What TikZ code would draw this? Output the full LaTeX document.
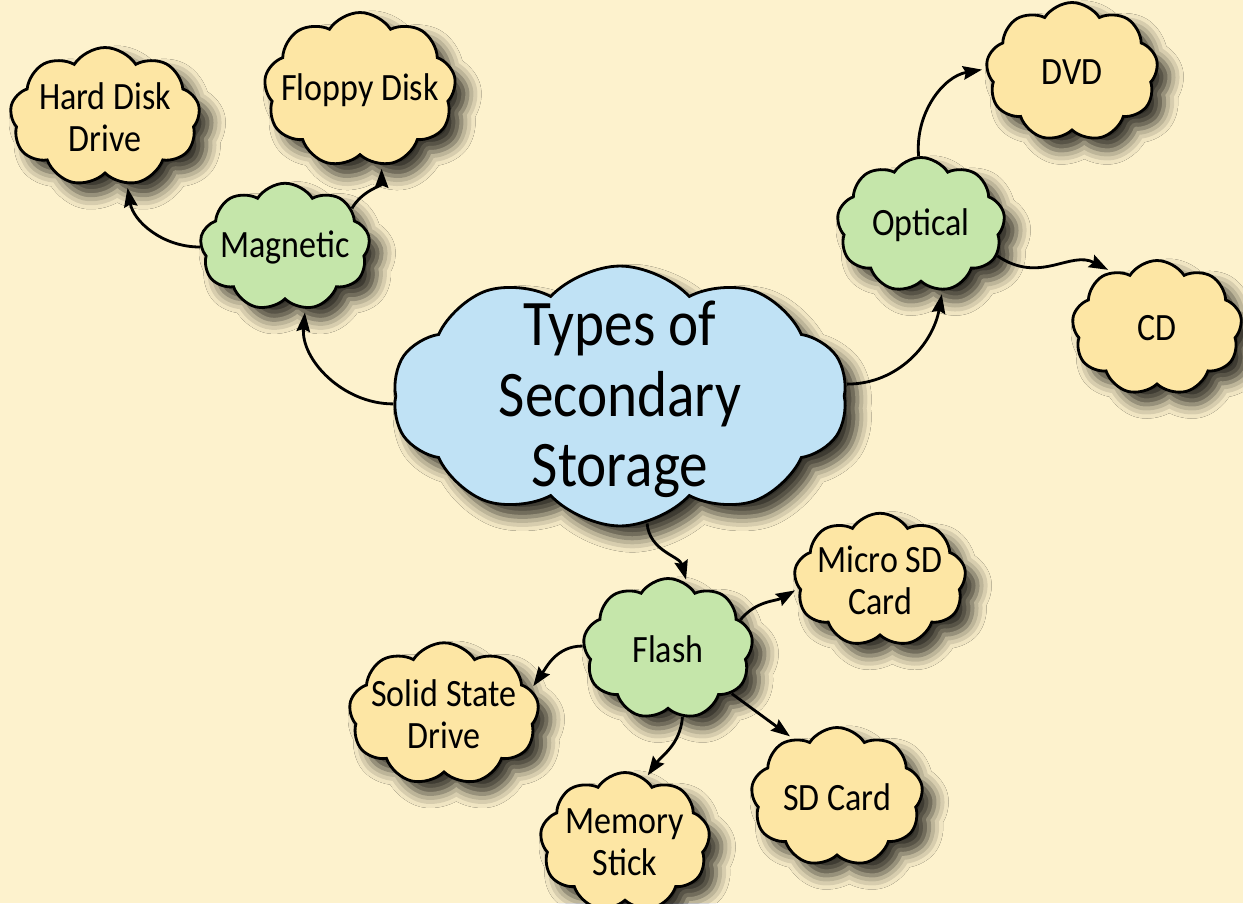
\documentclass[tikz,border=0pt]{standalone}
\usepackage{fontspec}
\setmainfont[FakeStretch=0.88]{Carlito}
\usepackage{tikz}
\usetikzlibrary{arrows.meta}
\usetikzlibrary{shapes.symbols}
\usetikzlibrary{shadows.blur}
\definecolor{bgcream}{RGB}{253, 242, 205}
\definecolor{mblue}{RGB}{192, 226, 245}
\definecolor{mgreen}{RGB}{197, 230, 170}
\definecolor{myellow}{RGB}{253, 230, 164}
\tikzset{puff/.style = {cloud, cloud puffs=9, cloud puff arc=115, cloud ignores aspect,
                        draw, line width=1.6pt, inner sep=0pt,
                        blur shadow={shadow xshift=7pt, shadow yshift=-7pt,
                                     shadow blur radius=8pt, shadow opacity=80}},
         topic/.style = {puff, fill=mblue, cloud puffs=10, cloud puff arc=95},
         branch/.style = {puff, fill=mgreen},
         leaf/.style = {puff, fill=myellow},
         tag/.style = {align=center, inner sep=0pt, font=\fontsize{22}{24}\selectfont},
         bigtag/.style = {tag, yshift=-2pt, font=\fontsize{37}{40}\selectfont},
         link/.style = {line width=1.6pt, shorten >=2pt,
                        -{Stealth[length=0.38cm, width=0.27cm, inset=0.05cm]}}}

\begin{document}
\begin{tikzpicture}[x=0.02cm, y=-0.02cm]
    \fill [bgcream] (0, 0) rectangle (1243, 903);
    \useasboundingbox (0, 0) rectangle (1243, 903);

    % centre
    \node [topic, minimum width=9.1cm, minimum height=5.2cm,
           label={[bigtag]center:Types of\\Secondary\\Storage}] (store) at (620, 396) {};

    % magnetic side
    \node [branch, minimum width=3.4cm, minimum height=2.55cm,
           label={[tag]center:Magnetic}] (mag) at (285, 247) {};
    \node [leaf, minimum width=3.8cm, minimum height=2.78cm,
           label={[tag]center:Hard Disk\\Drive}] (hdd) at (105, 117) {};
    \node [leaf, minimum width=3.84cm, minimum height=3.1cm,
           label={[tag]center:Floppy Disk}] (floppy) at (360, 90) {};

    % optical side
    \node [branch, minimum width=3.36cm, minimum height=2.7cm,
           label={[tag]center:Optical}] (opt) at (921, 225) {};
    \node [leaf, minimum width=3.44cm, minimum height=2.78cm,
           label={[tag]center:DVD}] (dvd) at (1072, 72) {};
    \node [leaf, minimum width=3.4cm, minimum height=2.7cm,
           label={[tag]center:CD}] (cd) at (1157, 328) {};

    % flash side
    \node [branch, minimum width=3.4cm, minimum height=2.82cm,
           label={[tag]center:Flash}] (flash) at (668, 649) {};
    \node [leaf, minimum width=3.44cm, minimum height=2.67cm,
           label={[tag]center:Micro SD\\Card}] (msd) at (880, 580) {};
    \node [leaf, minimum width=3.8cm, minimum height=2.85cm,
           label={[tag]center:Solid State\\Drive}] (ssd) at (444, 714) {};
    \node [leaf, minimum width=3.4cm, minimum height=2.78cm,
           label={[tag]center:Memory\\Stick}] (stick) at (625, 842) {};
    \node [leaf, minimum width=3.44cm, minimum height=2.78cm,
           label={[tag]center:SD Card}] (sd) at (837, 797) {};

    \draw [link] (store.182) to [out=180, in=-95] (mag.-72);
    \draw [link] (mag.180) to [out=180, in=-80] (hdd.-72);
    \draw [link] (mag.30) to [out=60, in=-90] (floppy.-74);
    \draw [link] (store.3) to [out=0, in=-100] (opt.-72);
    \draw [link] (opt.92) to [out=95, in=190] (dvd.178);
    \draw [link] (opt.-22) .. controls (1040, 285) and (1070, 250) .. (cd.129);
    \draw [link] (store.-78) to [out=-85, in=105] (flash.74);
    \draw [link] (flash.22) to [out=50, in=-150] (msd.186);
    \draw [link] (flash.178) to [out=180, in=55] (ssd.16);
    \draw [link] (flash.-78) to [out=-95, in=55] (stick.72);
    \draw [link] (flash.-35) -- (sd.127);
  \end{tikzpicture}
\end{document}
